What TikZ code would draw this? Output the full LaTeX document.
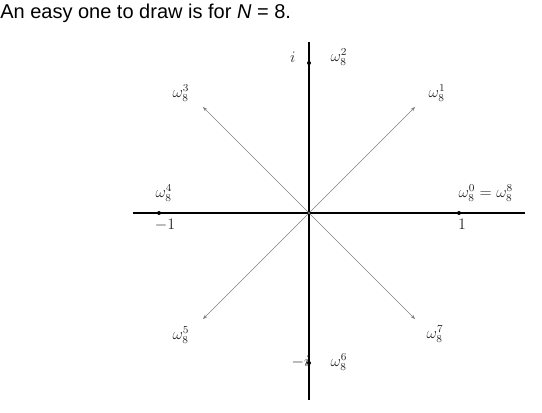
\documentclass[tikz,border=0pt]{standalone}
\usepackage{amsmath}
\usepackage{fontspec}
\setmainfont{Liberation Sans}
\usepackage{tikz}
\usetikzlibrary{arrows.meta,positioning,calc}

\begin{document}
\begin{tikzpicture}[
    x=0.75pt, y=0.75pt,
    axis/.style={line width=0.8pt, black},
    root/.style={->, >={Stealth[length=3.5pt,width=2.5pt]}, line width=0.35pt, gray},
    dot/.style={circle, fill=black, inner sep=0pt, minimum size=3pt},
    lbl/.style={font=\fontsize{12}{14}\selectfont, text=black!85, inner sep=1pt}
]
    \useasboundingbox (-309,-199) rectangle (233,213);

    \node[anchor=base west, inner sep=0pt, font=\fontsize{15}{18}\selectfont] (title) at (-309,195)
        {An easy one to draw is for \textit{N} = 8.};

    % axes
    \coordinate (o) at (0,0);
    \coordinate (xl) at (-176,0);
    \coordinate (xr) at (216,0);
    \coordinate (yt) at (0,171);
    \coordinate (yb) at (0,-187);
    \draw[axis] (xl) -- (xr);
    \draw[axis] (yb) -- (yt);

    % roots on the axes
    \node[dot] (w0) at (0:150) {};
    \node[dot] (w2) at (90:150) {};
    \node[dot] (w4) at (180:150) {};
    \node[dot] (w6) at (270:150) {};

    % the other roots
    \foreach \k/\a in {1/45, 3/135, 5/225, 7/315}
        \coordinate (w\k) at (\a:150);
    \foreach \k in {1,3,5,7}
        \draw[root] (o) -- (w\k);

    \node[lbl, anchor=south west] (l0) at ($(w0)+(-2,10)$) {$\omega_8^0=\omega_8^8$};
    \node[lbl, anchor=north] (one) at ($(w0)+(3,-5)$) {$1$};
    \node[lbl, anchor=west] (l2) at ($(w2)+(20,6)$) {$\omega_8^2$};
    \node[lbl, anchor=east] (i) at ($(w2)+(-12,6)$) {$i$};
    \node[lbl, anchor=south] (l4) at ($(w4)+(5,10)$) {$\omega_8^4$};
    \node[lbl, anchor=north] (mone) at ($(w4)+(6,-5)$) {$-1$};
    \node[lbl, anchor=west] (l6) at ($(w6)+(20,1)$) {$\omega_8^6$};
    \node[lbl, anchor=east] (mi) at ($(w6)+(2,1)$) {$-i$};
    \node[lbl] (l1) at ($(w1)+(22,14)$) {$\omega_8^1$};
    \node[lbl] (l3) at ($(w3)+(-22,14)$) {$\omega_8^3$};
    \node[lbl] (l5) at ($(w5)+(-22,-16)$) {$\omega_8^5$};
    \node[lbl] (l7) at ($(w7)+(20,-15)$) {$\omega_8^7$};
\end{tikzpicture}
\end{document}
